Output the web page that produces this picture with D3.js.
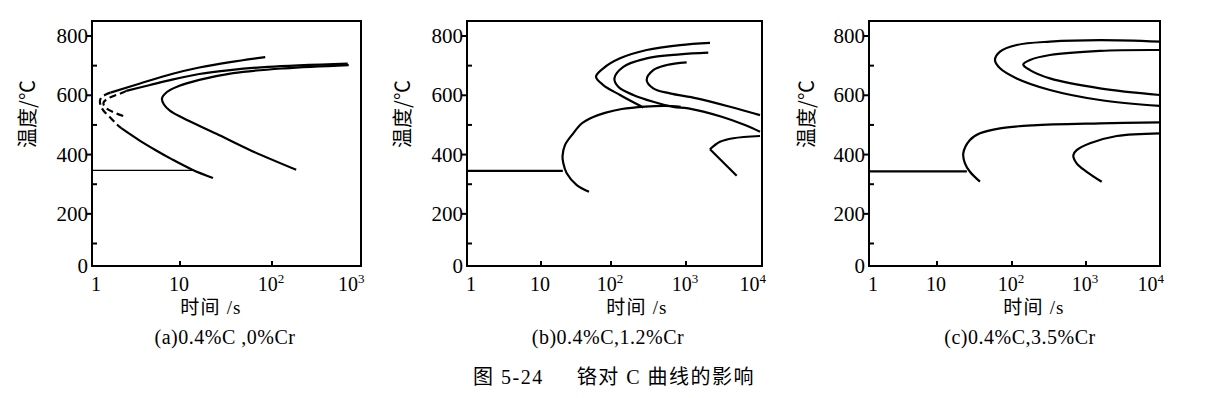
<!DOCTYPE html>
<html><head><meta charset="utf-8">
<script src="https://cdn.jsdelivr.net/npm/d3@7"></script>
<style>
html,body{margin:0;padding:0;background:#fff;}
svg{display:block;}
text{fill:#000;}
</style></head>
<body>
<svg id="chart" width="1209" height="398"></svg>
<script>
// ---------- data (time in s, temperature in °C) ----------
// (a) 0.4%C, 0%Cr
const aOuterUpper = [[84.4,729],[35.1,712],[16.2,693.6],[8.07,671.7],[3.45,639],[1.62,609]];
const aOuterNose  = [[1.62,609],[1.47,604],[1.29,594],[1.23,581],[1.26,564],[1.36,547],[1.59,527],[1.9,503],[2.15,489]];
const aOuterLower = [[2.15,489],[3.45,448],[5.30,414.7],[8.13,383.7],[13.6,349],[22.8,321]];
const aMidUpper   = [[717,707],[90.4,696],[35.1,685],[16.2,671.7],[8.14,653],[4.46,634],[2.45,615]];
const aMidNose    = [[2.45,615],[2.24,609],[1.59,592],[1.36,577],[1.36,567],[1.46,556],[1.89,539],[2.48,526]];
const aInner      = [[736,702],[137.7,691],[37.9,675],[16.2,652],[9.67,631],[7.10,611],[6.24,589],[6.57,569],[7.67,548.6],[10.53,525],[24.9,470],[58.8,414],[187.6,348.6]];
const aMs         = [[1,347],[13.5,347]];
// (b) 0.4%C, 1.2%Cr
const bOuter   = [[2069,777],[832,769.5],[299,752.7],[132,724.7],[77.6,691],[61,662.6],[77.6,634.6],[132,601],[220,570.5],[270,559]];
const bMid     = [[1963,743.6],[832,738],[299,724.7],[146,696],[111,657],[125,629],[198,601],[366,578],[678,561],[1072,556],[2952,527.7],[5970,499.7],[9420,477]];
const bInner   = [[1021,711],[553,702],[366,685],[299,651.5],[366,623.5],[612,606.6],[1383,589.8],[3795,561.4],[9420,533]];
const bBainite = [[48.5,274.7],[32.4,297],[23.3,336.8],[20.8,371.5],[20.3,395],[22,432],[28.9,471.7],[38.1,504.8],[55.8,526.7],[82,540.8],[139,553.7],[284,562],[525,564.5],[850,561]];
const bLowLeg  = [[4645,328.7],[2069,417.7]];
const bLowArc  = [[2069,417.7],[2800,443],[4188,455],[9420,462.6]];
const bMs      = [[1,345],[20.5,345]];
// (c) 0.4%C, 3.5%Cr
const cOuter   = [[10000,781],[1546,786],[326,781],[115.7,769.5],[69.2,747],[59.3,719],[69.2,691],[115.7,657],[326,618],[1546,584],[10000,564]];
const cInner   = [[10000,752.7],[1546,750],[326,735.8],[175,719],[142,704],[175,685],[326,657],[1546,623.5],[10000,601]];
const cBainite = [[10000,508.8],[1546,505.4],[192,498.7],[69.2,488.6],[37.4,471.7],[27.5,449],[22.4,404],[23.6,370.5],[27.5,342],[37.4,308.5]];
const cLower   = [[10000,471.7],[2600,462.6],[1132,438],[748,415],[674,398.5],[748,370.5],[1022,342],[1630,308.5]];
const cMs      = [[1,343],[25,343]];

// ---------- axes / text ----------
const yTickValues  = [0,200,400,600,800];
const yMinorValues = [100,300,500,700];
const xTicksA  = [1,10,100,1000];
const xTicksBC = [1,10,100,1000,10000];
const xTickLabels = ["1","10","10^2","10^3","10^4"];
const yAxisTitle = "温度/℃";
const xAxisTitle = "时间 /s";
const captions = ["(a)0.4%C ,0%Cr","(b)0.4%C,1.2%Cr","(c)0.4%C,3.5%Cr"];
const figureTitle = "图 5-24\u3000\u2002铬对 C 曲线的影响";

// ---------- layout ----------
const svg = d3.select("#chart");
const FRAME_TOP = 21, FRAME_BOTTOM = 266;
const y = d3.scaleLinear().domain([0,100,800]).range([266,243.5,36]);
const serif = "'Liberation Serif','Times New Roman',serif";
const cjk = "'Noto Sans CJK SC',sans-serif";
const mixed = "'Liberation Serif','Noto Sans CJK SC',serif";

const panels = [
  {ticks:xTicksA, range:[92,180,272,360.5], left:92, right:361, yTitleX:28, xTitleX:211, capX:225,
   curves:[{d:aOuterUpper},{d:aOuterNose,dash:true},{d:aOuterLower},{d:aMidUpper},{d:aMidNose,dash:true},{d:aInner},{d:aMs,w:1.3,lin:true}]},
  {ticks:xTicksBC, range:[467,541,611,686,762], left:467, right:762, yTitleX:403, xTitleX:637, capX:608,
   curves:[{d:bOuter},{d:bMid},{d:bInner},{d:bBainite},{d:bLowLeg,lin:true},{d:bLowArc},{d:bMs,lin:true}]},
  {ticks:xTicksBC, range:[869,937,1012,1086,1160], left:869, right:1160, yTitleX:807, xTitleX:1034, capX:1020,
   curves:[{d:cOuter},{d:cInner},{d:cBainite},{d:cLower},{d:cMs,lin:true}]}
];

panels.forEach((p,i)=>{
  const x = d3.scaleLog().domain(p.ticks).range(p.range);
  const g = svg.append("g");
  p.curves.forEach(c=>{
    const line = d3.line().x(d=>x(d[0])).y(d=>y(d[1]))
      .curve(c.lin ? d3.curveLinear : d3.curveCatmullRom.alpha(0.5));
    g.append("path").attr("d", line(c.d)).attr("fill","none")
      .attr("stroke","#000").attr("stroke-width", c.w || 2.2)
      .attr("stroke-linecap","butt").attr("stroke-linejoin","round")
      .attr("stroke-dasharray", c.dash ? "7,4" : null);
  });
  g.append("rect").attr("x",p.left).attr("y",FRAME_TOP)
    .attr("width",p.right-p.left).attr("height",FRAME_BOTTOM-FRAME_TOP)
    .attr("fill","none").attr("stroke","#000").attr("stroke-width",2);
  yTickValues.forEach(v=>{
    if (v>0) g.append("line").attr("x1",p.left-5).attr("x2",p.left).attr("y1",y(v)).attr("y2",y(v))
      .attr("stroke","#000").attr("stroke-width",2);
    g.append("text").attr("x",p.left-4).attr("y",y(v)+7).attr("text-anchor","end")
      .attr("font-family",serif).attr("font-size",21).text(v);
  });
  yMinorValues.forEach(v=>{
    g.append("line").attr("x1",p.left).attr("x2",p.left+5).attr("y1",y(v)).attr("y2",y(v))
      .attr("stroke","#000").attr("stroke-width",2);
  });
  p.ticks.forEach((t,k)=>{
    const px = x(t);
    if (k>0 && k<p.ticks.length-1)
      g.append("line").attr("x1",px).attr("x2",px).attr("y1",FRAME_BOTTOM).attr("y2",FRAME_BOTTOM-5)
        .attr("stroke","#000").attr("stroke-width",2);
    const last = k===p.ticks.length-1;
    const anchor = k===0 ? "start" : (last ? "end" : "middle");
    const tx = k===0 ? px-1 : (last ? px+4 : px-1);
    const parts = xTickLabels[k].split("^");
    const txt = g.append("text").attr("x",tx).attr("y",291).attr("text-anchor",anchor)
      .attr("font-family",serif).attr("font-size",20);
    txt.append("tspan").text(parts[0]);
    if (parts[1]) txt.append("tspan").attr("font-size",13).attr("dy",-8).text(parts[1]);
  });
  g.append("text").attr("transform",`translate(${p.yTitleX},114) rotate(-90)`)
    .attr("text-anchor","middle").attr("dy","0.35em")
    .attr("font-family",cjk).attr("font-size",20).text(yAxisTitle);
  g.append("text").attr("x",p.xTitleX).attr("y",314).attr("text-anchor","middle")
    .attr("font-family",mixed).attr("font-size",19).attr("letter-spacing",1.2)
    .style("white-space","pre").text(xAxisTitle);
  g.append("text").attr("x",p.capX).attr("y",344).attr("text-anchor","middle")
    .attr("font-family",serif).attr("font-size",20).attr("letter-spacing",0.5)
    .style("white-space","pre").text(captions[i]);
});

svg.append("text").attr("x",614).attr("y",384).attr("text-anchor","middle")
  .attr("font-family",mixed).attr("font-size",20).attr("letter-spacing",1.5)
  .style("white-space","pre").text(figureTitle);
</script>
</body></html>
